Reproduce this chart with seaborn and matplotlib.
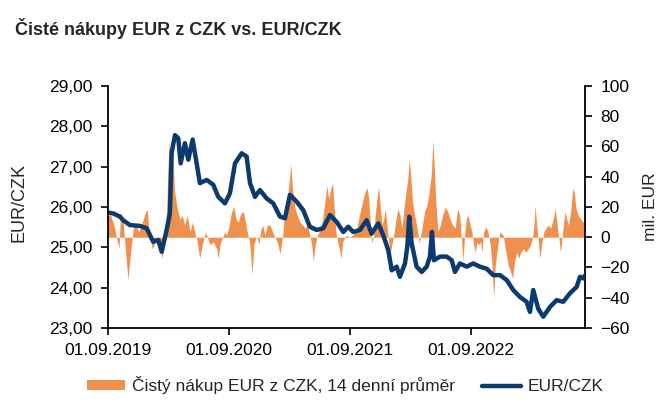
import numpy as np
import pandas as pd
import matplotlib
matplotlib.use("Agg")
import matplotlib.pyplot as plt
import matplotlib.dates as mdates
from matplotlib.patches import Patch
from matplotlib.lines import Line2D
import seaborn as sns

# EUR/CZK kurz (datum jako desetinny rok)
fx_t = [2019.666, 2019.710, 2019.765, 2019.792, 2019.848, 2019.930, 2019.986, 2020.040,
        2020.082, 2020.110, 2020.151, 2020.178, 2020.192, 2020.220, 2020.247, 2020.267,
        2020.302, 2020.330, 2020.366, 2020.399, 2020.426, 2020.482, 2020.536, 2020.578,
        2020.633, 2020.674, 2020.716, 2020.771, 2020.812, 2020.840, 2020.881, 2020.922,
        2020.978, 2021.032, 2021.088, 2021.129, 2021.170, 2021.226, 2021.280, 2021.335,
        2021.391, 2021.445, 2021.501, 2021.556, 2021.611, 2021.652, 2021.693, 2021.749,
        2021.804, 2021.845, 2021.900, 2021.941, 2021.983, 2022.011, 2022.052, 2022.079,
        2022.121, 2022.140, 2022.156, 2022.176, 2022.217, 2022.259, 2022.300, 2022.327,
        2022.344, 2022.360, 2022.410, 2022.465, 2022.507, 2022.534, 2022.575, 2022.631,
        2022.685, 2022.740, 2022.796, 2022.850, 2022.906, 2022.961, 2023.016, 2023.071,
        2023.126, 2023.154, 2023.181, 2023.222, 2023.264, 2023.319, 2023.374, 2023.429,
        2023.484, 2023.540, 2023.567, 2023.594, 2023.608]
fx_val = [25.86, 25.84, 25.76, 25.67, 25.55, 25.53, 25.47, 25.14,
          25.18, 24.89, 25.43, 25.84, 27.33, 27.78, 27.70, 27.08,
          27.58, 27.17, 27.67, 27.08, 26.59, 26.67, 26.55, 26.25,
          26.09, 26.34, 27.08, 27.33, 27.25, 26.59, 26.25, 26.42,
          26.21, 26.09, 25.76, 25.72, 26.30, 26.13, 25.92, 25.51,
          25.43, 25.47, 25.80, 25.63, 25.38, 25.51, 25.38, 25.43,
          25.67, 25.34, 25.59, 25.30, 24.93, 24.43, 24.52, 24.27,
          24.60, 25.01, 25.76, 25.10, 24.52, 24.39, 24.52, 24.77,
          25.38, 24.68, 24.77, 24.77, 24.68, 24.39, 24.60, 24.52,
          24.60, 24.52, 24.47, 24.31, 24.31, 24.19, 23.94, 23.77,
          23.65, 23.40, 23.94, 23.48, 23.28, 23.52, 23.69, 23.65,
          23.86, 24.02, 24.27, 24.23, 24.30]

# Cisty nakup EUR z CZK, 14denni prumer (mil. EUR)
buy_t = [2019.666, 2019.688, 2019.716, 2019.757, 2019.771, 2019.792, 2019.812, 2019.831,
         2019.854, 2019.875, 2019.895, 2019.922, 2019.950, 2019.978, 2019.991, 2020.005,
         2020.032, 2020.060, 2020.088, 2020.115, 2020.135, 2020.151, 2020.170, 2020.184,
         2020.197, 2020.217, 2020.239, 2020.261, 2020.280, 2020.300, 2020.321, 2020.344,
         2020.363, 2020.383, 2020.404, 2020.424, 2020.445, 2020.473, 2020.492, 2020.509,
         2020.536, 2020.564, 2020.578, 2020.592, 2020.619, 2020.633, 2020.647, 2020.668,
         2020.688, 2020.707, 2020.724, 2020.743, 2020.763, 2020.784, 2020.798, 2020.817,
         2020.834, 2020.845, 2020.856, 2020.873, 2020.895, 2020.914, 2020.928, 2020.945,
         2020.964, 2020.983, 2021.005, 2021.027, 2021.046, 2021.065, 2021.088, 2021.110,
         2021.129, 2021.148, 2021.164, 2021.176, 2021.192, 2021.212, 2021.231, 2021.253,
         2021.275, 2021.294, 2021.313, 2021.335, 2021.350, 2021.363, 2021.379, 2021.396,
         2021.412, 2021.440, 2021.462, 2021.476, 2021.490, 2021.507, 2021.523, 2021.536,
         2021.550, 2021.564, 2021.578, 2021.592, 2021.606, 2021.633, 2021.660, 2021.688,
         2021.716, 2021.738, 2021.757, 2021.776, 2021.792, 2021.806, 2021.821, 2021.834,
         2021.848, 2021.862, 2021.875, 2021.889, 2021.903, 2021.916, 2021.931, 2021.945,
         2021.958, 2021.972, 2021.986, 2021.999, 2022.013, 2022.032, 2022.046, 2022.063,
         2022.079, 2022.096, 2022.112, 2022.129, 2022.145, 2022.156, 2022.170, 2022.184,
         2022.201, 2022.217, 2022.239, 2022.261, 2022.283, 2022.302, 2022.321, 2022.338,
         2022.352, 2022.366, 2022.379, 2022.393, 2022.412, 2022.432, 2022.454, 2022.473,
         2022.495, 2022.515, 2022.536, 2022.556, 2022.573, 2022.586, 2022.600, 2022.614,
         2022.627, 2022.641, 2022.660, 2022.674, 2022.688, 2022.702, 2022.716, 2022.730,
         2022.746, 2022.757, 2022.771, 2022.790, 2022.807, 2022.826, 2022.840, 2022.854,
         2022.867, 2022.881, 2022.895, 2022.906, 2022.933, 2022.955, 2022.974, 2022.994,
         2023.011, 2023.027, 2023.044, 2023.060, 2023.077, 2023.098, 2023.121, 2023.140,
         2023.159, 2023.173, 2023.187, 2023.197, 2023.209, 2023.226, 2023.236, 2023.253,
         2023.269, 2023.286, 2023.305, 2023.325, 2023.346, 2023.363, 2023.379, 2023.396,
         2023.407, 2023.424, 2023.443, 2023.457, 2023.473, 2023.490, 2023.507, 2023.520,
         2023.534, 2023.553, 2023.573, 2023.594, 2023.608]
buy_val = [14.5, 14.5, 8, -7.5, 17, 10, -10, -28,
           -10, 6, 8, 3.5, 10, 17, 18, 3.5,
           -7.5, -3, -5, -14, 3.5, 17, 64, 47.5,
           61, 30, 19, 12, 14.5, 8, 14.5, 3.5,
           10, 3.5, -3, -14, -5, 3.5, -1, -5,
           -3, -7.5, -14, -5, 1.3, 3.5, 1.3, 8,
           17, 20, 12, 10, 15.6, 17, 12, 3.5,
           -2, -10, -25, -5, 1.3, -5, 4.6, 8,
           1.3, 8, 8, 3.5, 0, -3, -11, 1.3,
           19, 25.5, 36.5, 48.7, 32, 19, 14.5, 10,
           8, 6, 8, 1.3, -5, -16, -5, 1.3,
           3.5, 12, 25.5, 34, 25.5, 32, 35.5, 19,
           3.5, -3, -7.5, -14, -3, 1.3, 0, 1.3,
           3.5, 12, 19, 25.5, 30, 33, 25.5, 10,
           -4, 1.3, 14.5, 25.5, 33, 21, 8, 12,
           19, 8, -3, -10, -5, 3.5, 12, 19,
           14.5, 6, 19, 30, 38.8, 52, 38.8, 23,
           14.5, 8, -4, 6, 17, 21, 30, 41,
           64, 41, 19, 3.5, 8, 14.5, 20, 17,
           12, 8, 6, 19, 14.5, 1.3, -16, 1.3,
           12, 14.5, 8, 3.5, -5, -10, -3, -5,
           -3, -10, 3.5, 7, 3.5, -5, -18.5, -40.5,
           -18.5, -10, -1, 3.5, 1.3, -10, -18.5, -23,
           -27, -16, -10, -14, -10, -7.5, -10, -7.5,
           -5, -1, 8, 21, 8, -5, -14, -3,
           3.5, 6, 8, 6, 12, 19, 8, -3,
           -10, 3.5, 17, 12, 8, 17, 32, 30,
           19, 14.5, 12, 10, 8]

x_ticks = ["2019-09-01", "2020-09-01", "2021-09-01", "2022-09-01"]
left_ticks = [23, 24, 25, 26, 27, 28, 29]
right_ticks = [-60, -40, -20, 0, 20, 40, 60, 80, 100]

ORANGE = "#F0904E"
NAVY = "#0B3A6F"


def to_date(t):
    t = np.asarray(t)
    return pd.Timestamp("2019-01-01") + pd.to_timedelta((t - 2019) * 365.25, unit="D")


fx = pd.DataFrame({"datum": to_date(fx_t), "kurz": fx_val})
buy = pd.DataFrame({"datum": to_date(buy_t), "nakup": buy_val})

sns.set_style("ticks")
plt.rcParams["font.family"] = ["Liberation Sans", "DejaVu Sans"]

fig = plt.figure(figsize=(6.7, 4.09), dpi=100)
ax = fig.add_axes([0.161, 0.198, 0.712, 0.592])
ax2 = ax.twinx()

# oranzova plocha na prave ose
ax2.fill_between(buy["datum"], 0, buy["nakup"], color=ORANGE, linewidth=0)
ax2.set_ylim(-60, 100)
ax2.set_yticks(right_ticks)
ax2.set_ylabel("mil. EUR", fontsize=12.5)
ax2.yaxis.set_label_coords(1.122, 0.5)

# kurz na leve ose, kresleny navrch
sns.lineplot(data=fx, x="datum", y="kurz", ax=ax, color=NAVY, linewidth=3.2)
ax.set_zorder(ax2.get_zorder() + 1)
ax.patch.set_visible(False)
ax.set_ylim(23, 29)
ax.set_yticks(left_ticks)
ax.set_yticklabels([f"{v:.2f}".replace(".", ",") for v in left_ticks])
ax.set_ylabel("EUR/CZK", fontsize=13)
ax.yaxis.set_label_coords(-0.168, 0.52)
ax.set_xlabel("")

ax.set_xlim(fx["datum"].iloc[0], fx["datum"].iloc[-1])
ax.set_xticks(pd.to_datetime(x_ticks))
ax.xaxis.set_major_formatter(mdates.DateFormatter("%d.%m.%Y"))

for a in (ax, ax2):
    for s in a.spines.values():
        s.set_color("black")
        s.set_linewidth(1.3)
    a.spines["top"].set_visible(False)
    a.tick_params(labelsize=12.5, length=5, width=1.2, colors="black",
                  direction="out", pad=6)
ax.spines["right"].set_visible(False)
ax2.spines["left"].set_visible(False)
ax2.spines["bottom"].set_visible(False)

fig.text(0.022, 0.93, "Čisté nákupy EUR z CZK vs. EUR/CZK", fontsize=13,
         fontweight="bold", va="center", ha="left")

handles = [Patch(facecolor=ORANGE, edgecolor="none"),
           Line2D([0], [0], color=NAVY, linewidth=3.2)]
labels = ["Čistý nákup EUR z CZK, 14 denní průměr", "EUR/CZK"]
fig.legend(handles, labels, loc="center", bbox_to_anchor=(0.515, 0.058), ncol=2,
           frameon=False, fontsize=12.5, handlelength=2.2, handleheight=0.55,
           columnspacing=1.6, handletextpad=0.4)

fig.savefig("out.png", dpi=100)
